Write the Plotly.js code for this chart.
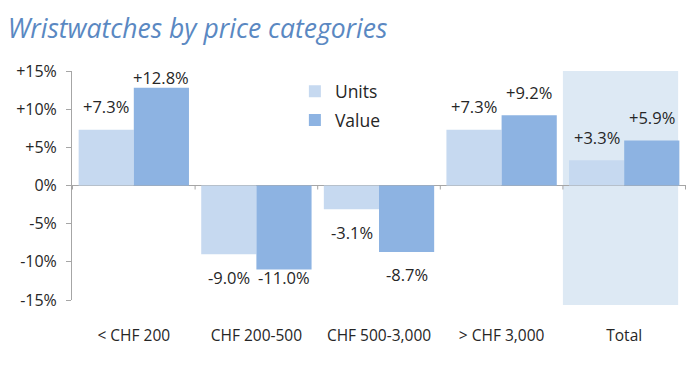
<!DOCTYPE html>
<html>
<head>
<meta charset="utf-8">
<script src="https://cdn.plot.ly/plotly-3.0.1.min.js"></script>
<style>html,body{margin:0;padding:0;background:#fff;}#chart{width:700px;height:365px;}</style>
</head>
<body>
<div id="chart"></div>
<script>
const categories = ["< CHF 200", "CHF 200-500", "CHF 500-3,000", "> CHF 3,000", "Total"];
const unitsValues = [7.3, -9.0, -3.1, 7.3, 3.3];
const valueValues = [12.8, -11.0, -8.7, 9.2, 5.9];
const yTickVals = [15, 10, 5, 0, -5, -10, -15];
const yTickText = ["+15%", "+10%", "+5%", "0%", "-5%", "-10%", "-15%"];

const unitsColor = "#c6d9f0";
const valueColor = "#8db3e2";
const textColor = "#262626";
const axisColor = "#a6a6a6";
const FONT = "Open Sans, Liberation Sans, sans-serif";

const traces = [
  {type: "bar", name: "Units", x: categories, y: unitsValues, marker: {color: unitsColor},
   legendgroup: "u", hoverinfo: "none"},
  {type: "bar", name: "Value", x: categories, y: valueValues, marker: {color: valueColor},
   legendgroup: "v", hoverinfo: "none"}
];

function fmt(v) { return (v > 0 ? "+" : "") + v.toFixed(1) + "%"; }
function labelY(v) {
  const y = v > 0 ? v + 3 : v - 3;
  return Math.max(-12, Math.min(14.1, y));
}

const annotations = [];
[[unitsValues, -27.5], [valueValues, 27.5]].forEach(([vals, shift]) => {
  vals.forEach((v, i) => {
    annotations.push({
      x: categories[i], y: labelY(v), xref: "x", yref: "y",
      xshift: shift, yanchor: "middle", xanchor: "center",
      text: fmt(v), showarrow: false,
      font: {family: FONT, size: 16.5, color: textColor}
    });
  });
});

const shapes = [
  {type: "rect", layer: "below", xref: "x", yref: "paper",
   x0: 3.5, x1: 4.44, y0: -0.022, y1: 1,
   fillcolor: "#dde9f4", line: {width: 0}}
];
for (let i = 0; i <= categories.length; i++) {
  shapes.push({type: "line", xref: "x", yref: "y", x0: i - 0.5, x1: i - 0.5,
    ysizemode: "pixel", yanchor: 0, y0: 0, y1: -4,
    line: {color: axisColor, width: 1}});
}

const layout = {
  width: 700, height: 365,
  margin: {l: 72, r: 14, t: 71, b: 65},
  paper_bgcolor: "#ffffff", plot_bgcolor: "rgba(0,0,0,0)",
  barmode: "group", bargap: 0.1, bargroupgap: 0,
  title: {text: "<i>Wristwatches by price categories</i>",
    x: 0.011, xanchor: "left", xref: "container",
    y: 1 - 29 / 365, yanchor: "middle", yref: "container",
    font: {family: FONT, size: 26.5, color: "#5a88c2"}},
  xaxis: {type: "category", showline: false, showgrid: false, zeroline: false,
    ticks: "", ticklabelstandoff: 24,
    tickfont: {family: FONT, size: 15.5, color: textColor}},
  yaxis: {range: [-15, 15], tickvals: yTickVals, ticktext: yTickText,
    showgrid: false, showline: true, linecolor: axisColor, linewidth: 1,
    ticks: "outside", ticklen: 5, tickcolor: axisColor,
    zeroline: true, zerolinecolor: axisColor, zerolinewidth: 1,
    ticklabelstandoff: 6,
    tickfont: {family: FONT, size: 16, color: textColor}},
  showlegend: true,
  legend: {x: 0.363, xanchor: "left", y: 0.99, yanchor: "top",
    bgcolor: "rgba(0,0,0,0)", tracegroupgap: 3,
    font: {family: FONT, size: 17.5, color: textColor}},
  shapes: shapes,
  annotations: annotations
};

Plotly.newPlot("chart", traces, layout, {displayModeBar: false, staticPlot: true});
</script>
</body>
</html>
